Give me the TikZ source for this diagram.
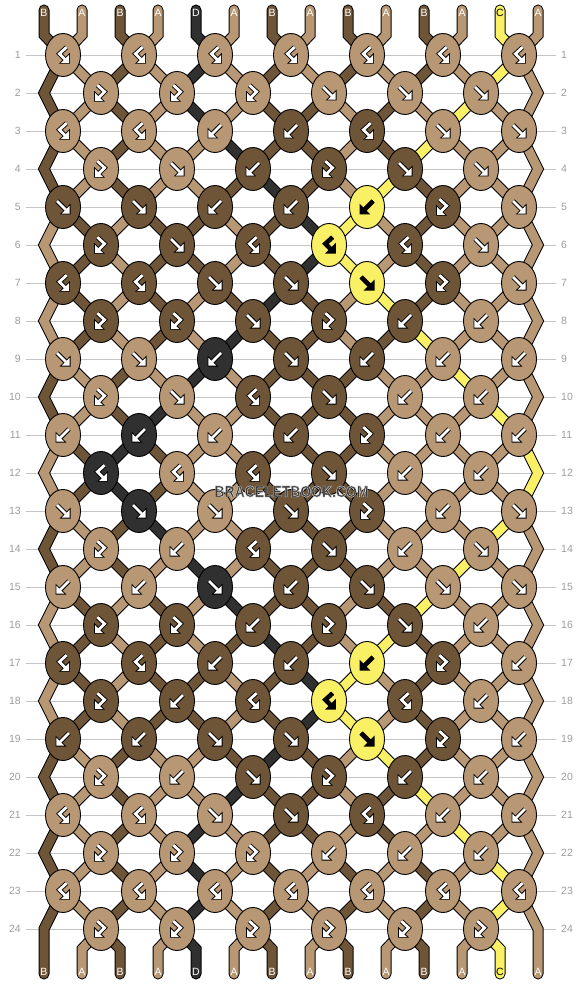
\documentclass[tikz,border=0pt]{standalone}
\usepackage{fontspec}
\usepackage{graphicx}
\setsansfont{Liberation Sans}
\usetikzlibrary{shapes.geometric,calc}

\definecolor{tintA}{HTML}{B89774}
\definecolor{tintB}{HTML}{6F5537}
\definecolor{tintC}{HTML}{FAF066}
\definecolor{tintD}{HTML}{303030}
\colorlet{inkA}{white}
\colorlet{inkB}{white}
\colorlet{inkC}{black}
\colorlet{inkD}{white}
\definecolor{rowgray}{HTML}{C4C4C4}
\definecolor{numgray}{HTML}{9C9C9C}
\definecolor{logogray}{HTML}{3C3C3C}

\pgfdeclarelayer{grid}
\pgfdeclarelayer{threads}
\pgfsetlayers{grid,threads,main}

\def\sidef{l}\def\sideb{r}\def\sidefb{l}\def\sidebf{r}
\def\swapf{1}\def\swapb{1}\def\swapfb{0}\def\swapbf{0}

\newcommand\knotglyph[4]{%
  \begin{scope}[shift={(#1)}, scale=1.2, line join=miter]
    \draw[black, line width=4.6pt] #3;
    \filldraw[black, line width=1.8pt] #4 -- cycle;
    \draw[#2, line width=2.8pt] #3;
    \fill[#2] #4 -- cycle;
  \end{scope}}
\newcommand\glyphf[2]{\knotglyph{#1}{#2}{(-5,-5) -- (3,3)}{(5.5,5.5) -- (5.5,-1) -- (-1,5.5)}}
\newcommand\glyphb[2]{\knotglyph{#1}{#2}{(5,-5) -- (-3,3)}{(-5.5,5.5) -- (-5.5,-1) -- (1,5.5)}}
\newcommand\glyphfb[2]{\knotglyph{#1}{#2}{(-3,-6.5) -- (3,-1) -- (-2,4)}{(-5,6.5) -- (-5,0) -- (1.5,6.5)}}
\newcommand\glyphbf[2]{\knotglyph{#1}{#2}{(3,-6.5) -- (-3,-1) -- (2,4)}{(5,6.5) -- (5,0) -- (-1.5,6.5)}}

\begin{document}
\begin{tikzpicture}[x=1pt, y=-1pt,
  thread/.style={draw=black, line width=1pt, double=tint#1, double distance=9pt, line cap=round, line join=miter},
  knot/.style={ellipse, draw=black, line width=0.9pt, fill=tint#1, minimum width=35pt, minimum height=43pt, inner sep=0pt},
  end label/.style={text=ink#1, font=\sffamily\fontsize{10.5}{10.5}\selectfont, inner sep=0pt},
  row number/.style={text=numgray, font=\sffamily\fontsize{10.5}{10.5}\selectfont, inner sep=0pt},
  row line/.style={draw=rowgray, line width=0.8pt},
  logo/.style={font=\sffamily\bfseries\fontsize{16}{16}\selectfont, inner sep=0pt}]
\useasboundingbox (0,0) rectangle (582,984);

\foreach \letter [count=\i] in {B,A,B,A,D,A,B,A,B,A,B,A,C,A}{
  \pgfmathsetmacro\sx{44+38*(\i-1)}
  \expandafter\xdef\csname tint\i\endcsname{\letter}
  \expandafter\xdef\csname slot\i\endcsname{\i}
  \expandafter\xdef\csname way\i\endcsname{(\sx,10) -- (\sx,35)}
  \node[end label=\letter] (top-\i) at (\sx,12.5) {\letter};
}

\foreach \rw/\kinds in {1/{bf,bf,bf,bf,bf,bf,bf}, 2/{fb,fb,fb,f,f,f},
    3/{bf,bf,b,b,bf,f,f}, 4/{fb,f,b,fb,f,f}, 5/{f,f,b,b,b,fb,f},
    6/{fb,f,bf,bf,bf,f}, 7/{bf,bf,f,f,f,fb,f}, 8/{fb,fb,f,fb,b,b},
    9/{f,f,b,f,b,b,b}, 10/{fb,f,bf,f,b,b}, 11/{b,b,b,b,fb,b,b},
    12/{bf,bf,bf,f,b,b}, 13/{f,f,f,f,fb,b,f}, 14/{fb,b,bf,f,b,f},
    15/{b,b,f,b,f,f,f}, 16/{fb,fb,b,fb,f,b}, 17/{bf,bf,b,b,b,fb,b},
    18/{fb,b,bf,bf,bf,b}, 19/{b,b,f,f,f,fb,b}, 20/{fb,b,f,fb,b,b},
    21/{bf,bf,f,f,bf,b,b}, 22/{fb,fb,fb,b,b,b}, 23/{bf,bf,bf,bf,bf,bf,bf},
    24/{fb,fb,fb,fb,fb,fb}}{
  \pgfmathsetmacro\ky{55+38*(\rw-1)}
  \pgfmathtruncatemacro\ev{1-mod(\rw,2)}
  \begin{pgfonlayer}{grid}
    \draw[row line] (26,\ky) -- (556,\ky);
  \end{pgfonlayer}
  \node[row number, anchor=east] (num-l-\rw) at (21,\ky) {\rw};
  \node[row number, anchor=west] (num-r-\rw) at (561,\ky) {\rw};
  \ifnum\ev=1
    \edef\sid{\csname slot1\endcsname}
    \expandafter\xdef\csname way\sid\endcsname{\csname way\sid\endcsname\space -- (44,\ky)}
    \edef\sid{\csname slot14\endcsname}
    \expandafter\xdef\csname way\sid\endcsname{\csname way\sid\endcsname\space -- (538,\ky)}
  \fi
  \foreach \kd [count=\kn] in \kinds {
    \pgfmathtruncatemacro\lft{2*\kn-1+\ev}
    \pgfmathtruncatemacro\rgt{\lft+1}
    \pgfmathsetmacro\kx{63+38*(\lft-1)}
    \edef\lid{\csname slot\lft\endcsname}
    \edef\rid{\csname slot\rgt\endcsname}
    \if l\csname side\kd\endcsname
      \edef\kcol{\csname tint\lid\endcsname}
    \else
      \edef\kcol{\csname tint\rid\endcsname}
    \fi
    \node[knot=\kcol] (knot-\rw-\kn) at (\kx,\ky) {};
    \csname glyph\kd\endcsname{knot-\rw-\kn}{ink\kcol}
    \expandafter\xdef\csname way\lid\endcsname{\csname way\lid\endcsname\space -- (knot-\rw-\kn.center)}
    \expandafter\xdef\csname way\rid\endcsname{\csname way\rid\endcsname\space -- (knot-\rw-\kn.center)}
    \ifnum\csname swap\kd\endcsname=1
      \expandafter\xdef\csname slot\lft\endcsname{\rid}
      \expandafter\xdef\csname slot\rgt\endcsname{\lid}
    \fi
  }
}

\foreach \pos in {1,...,14}{
  \pgfmathsetmacro\sx{44+38*(\pos-1)}
  \edef\sid{\csname slot\pos\endcsname}
  \edef\route{\csname way\sid\endcsname\space -- (\sx,949) -- (\sx,974)}
  \edef\letter{\csname tint\sid\endcsname}
  \begin{pgfonlayer}{threads}
    \draw[thread=\letter] \route;
  \end{pgfonlayer}
  \node[end label=\letter] (bottom-\pos) at (\sx,971.5) {\letter};
}

\node[logo, text=logogray] (logo) at (291.5,491.5)
  {\scalebox{0.87}[1]{\special{pdf:literal direct 2 Tr 0.45 w 0.85 0.85 0.85 RG}BRACELETBOOK.COM\special{pdf:literal direct 0 Tr}}};
\end{tikzpicture}
\end{document}
